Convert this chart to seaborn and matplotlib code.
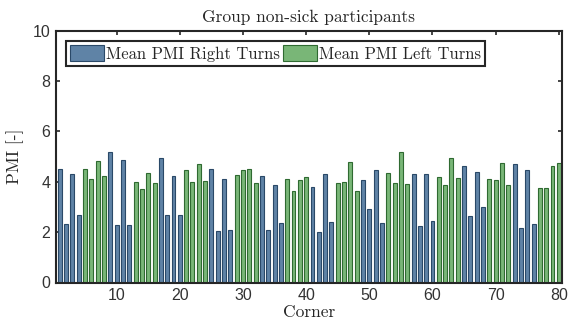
import numpy as np
import pandas as pd
import matplotlib
matplotlib.use("Agg")
import matplotlib.pyplot as plt
import seaborn as sns

corners = list(range(1, 81))
turn_type = (["Right", "Right", "Right", "Right", "Left", "Left", "Left", "Left"] * 10)
pmi_values = [
    4.52, 2.33, 4.32, 2.67, 4.52, 4.10, 4.82, 4.22,
    5.19, 2.27, 4.87, 2.27, 3.99, 3.73, 4.36, 3.94,
    4.94, 2.70, 4.24, 2.70, 4.48, 3.99, 4.72, 4.03,
    4.52, 2.03, 4.12, 2.07, 4.27, 4.48, 4.52, 3.97,
    4.24, 2.09, 3.89, 2.37, 4.11, 3.62, 4.06, 4.19,
    3.81, 2.00, 4.30, 2.42, 3.95, 3.98, 4.78, 3.65,
    4.06, 2.91, 4.48, 2.35, 4.36, 3.94, 5.19, 3.90,
    4.32, 2.23, 4.30, 2.46, 4.19, 3.86, 4.95, 4.15,
    4.61, 2.66, 4.40, 2.98, 4.12, 4.08, 4.74, 3.89,
    4.72, 2.15, 4.48, 2.31, 3.74, 3.77, 4.64, 4.76,
]
label_map = {"Right": "Mean PMI Right Turns", "Left": "Mean PMI Left Turns"}
x_ticks = [10, 20, 30, 40, 50, 60, 70, 80]
y_ticks = [0, 2, 4, 6, 8, 10]

df = pd.DataFrame({
    "Corner": corners,
    "PMI": pmi_values,
    "Turn": [label_map[t] for t in turn_type],
})

blue_face, blue_edge = "#5383b2", "#2a4968"
green_face, green_edge = "#6fc06c", "#2f6a31"
palette = {label_map["Right"]: blue_face, label_map["Left"]: green_face}
edges = {label_map["Right"]: blue_edge, label_map["Left"]: green_edge}

sns.set_theme(style="white")
plt.rcParams["font.family"] = ["Liberation Sans", "DejaVu Sans"]
plt.rcParams["mathtext.fontset"] = "cm"

fig = plt.figure(figsize=(5.69, 3.32), dpi=100)
ax = fig.add_axes([56 / 569, 1 - 282.5 / 332, (562 - 56) / 569, (282.5 - 30.7) / 332])

sns.barplot(data=df, x="Corner", y="PMI", hue="Turn", native_scale=True,
            dodge=False, palette=palette, width=0.62, errorbar=None,
            hue_order=[label_map["Right"], label_map["Left"]],
            linewidth=0.8, ax=ax)

# per-series edge colour
for container, key in zip(ax.containers, [label_map["Right"], label_map["Left"]]):
    for p in container:
        p.set_edgecolor(edges[key])

ax.set_xlim(0.4, 80.5)
ax.set_ylim(0, 10)
ax.set_xticks(x_ticks)
ax.set_xticklabels([str(t) for t in x_ticks], fontsize=11.5, color="#333333")
ax.set_yticks(y_ticks)
ax.set_yticklabels([str(t) for t in y_ticks], fontsize=11.5, color="#333333")
ax.tick_params(axis="both", direction="in", length=3, width=1.2, color="#262626",
               top=True, right=True, bottom=True, left=True, pad=4)
for s in ax.spines.values():
    s.set_visible(True)
    s.set_color("#262626")
    s.set_linewidth(1.5)

serif = ["cmr10", "DejaVu Serif"]
ax.set_title("Group non-sick participants", fontsize=12.5, family=serif,
             color="#262626", pad=6)
ax.set_xlabel("Corner", fontsize=12.5, family=serif, color="#262626", labelpad=1)
ax.set_ylabel("PMI [-]", fontsize=12.5, family=serif, color="#262626", labelpad=6)

handles, labels = ax.get_legend_handles_labels()
for h, l in zip(handles, labels):
    h.set_edgecolor(edges[l])
leg = ax.legend(handles, labels, loc="upper left", ncol=2, frameon=True,
                fancybox=False, edgecolor="#262626", framealpha=1,
                prop={"family": serif, "size": 12},
                handlelength=2.0, handleheight=1.1, handletextpad=0.15,
                columnspacing=0.2, borderpad=0.25, borderaxespad=0.6)
leg.get_frame().set_linewidth(1.5)

fig.savefig("out.png", dpi=100)
